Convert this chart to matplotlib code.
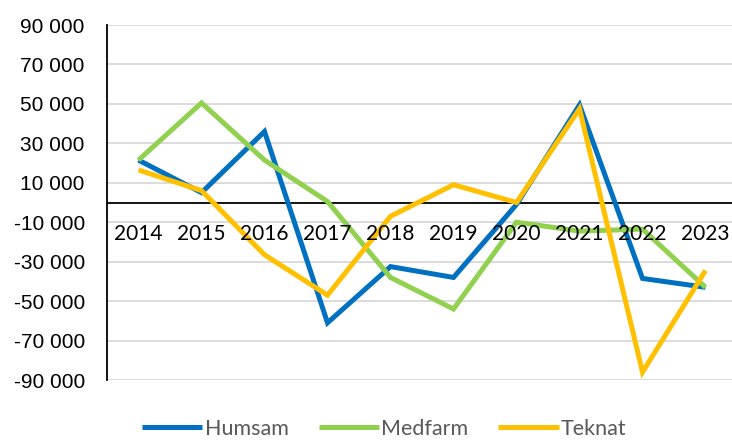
import matplotlib
matplotlib.use('Agg')

import matplotlib.pyplot as plt

years = ['2014', '2015', '2016', '2017', '2018', '2019', '2020', '2021', '2022', '2023']
humsam = [21500, 5000, 36000, -61000, -32500, -38000, -1000, 49500, -38500, -43000]
medfarm = [21500, 50500, 21500, 500, -38000, -54000, -10000, -14500, -13500, -43000]
teknat = [16500, 6000, -26500, -47000, -7000, 9000, 0, 47500, -86000, -34500]

series = [
    ('Humsam', humsam, '#0070C0'),
    ('Medfarm', medfarm, '#92D050'),
    ('Teknat', teknat, '#FFC000'),
]
yticks = list(range(-90000, 90001, 20000))

fig = plt.figure(figsize=(7.32, 4.40), dpi=100)
ax = fig.add_axes([107 / 732, 60 / 440, 630 / 732, 355 / 440])

x = list(range(len(years)))
for name, vals, color in series:
    ax.plot(x, vals, color=color, lw=3.6, label=name, zorder=3,
            solid_joinstyle='miter', solid_capstyle='butt')

ax.set_xlim(-0.5, len(years) - 0.5)
ax.set_ylim(-90000, 90000)
ax.set_yticks(yticks)
ax.set_yticklabels([f'{v:,}'.replace(',', ' ') for v in yticks],
                   fontsize=15, family='Liberation Sans')
ax.yaxis.grid(True, color='#D9D9D9', lw=1.3)
ax.set_axisbelow(True)
ax.tick_params(axis='y', length=0, pad=16)

# zero line acts as the category axis
ax.axhline(0, color='black', lw=1.3, zorder=1.5)
ax.set_xticks([])
for i, yr in enumerate(years):
    ax.text(i, -19000, yr, ha='center', va='baseline', fontsize=15,
            family='Lato', zorder=5)

for side in ['top', 'right', 'bottom']:
    ax.spines[side].set_visible(False)
ax.spines['left'].set_color('black')
ax.spines['left'].set_linewidth(1.3)

leg = ax.legend(loc='center', bbox_to_anchor=(0.44, -0.138), ncol=3,
                frameon=False, handlelength=2.8, handletextpad=0.1,
                columnspacing=1.4, borderpad=0.2,
                prop={'family': 'Lato', 'size': 15.5})
for t in leg.get_texts():
    t.set_color('#595959')

fig.savefig('out.png', dpi=100)
